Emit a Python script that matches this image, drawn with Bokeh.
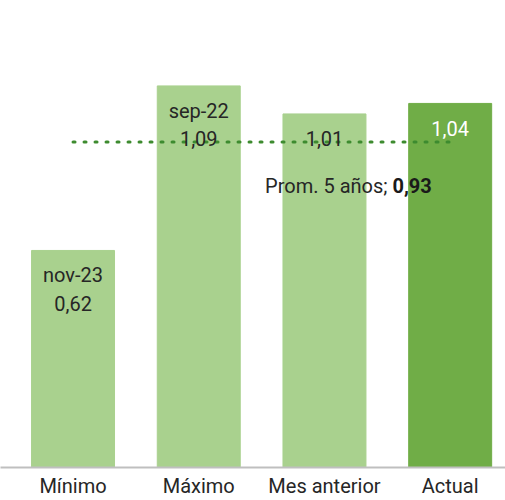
from bokeh.plotting import figure
from bokeh.models import ColumnDataSource, FixedTicker, Range1d
from bokeh.core.properties import value
from bokeh.embed import file_html
from bokeh.resources import INLINE

categories = ["Mínimo", "Máximo", "Mes anterior", "Actual"]
values = [0.62, 1.09, 1.01, 1.04]
dates = ["nov-23", "sep-22", "", ""]
value_labels = ["0,62", "1,09", "1,01", "1,04"]
avg_5y = 0.93
avg_label = "0,93"
avg_prefix = "Prom. 5 años; "

xs = [1, 2, 3, 4]
bar_colors = ["#a9d18e", "#a9d18e", "#a9d18e", "#70ad47"]
label_colors = ["#262626", "#262626", "#262626", "#ffffff"]
val_offsets = [53 if d else 25 for d in dates]

FONT = value("Roboto")
FS = "20px"

p = figure(width=505, height=500, output_backend="svg", toolbar_location=None,
           x_range=Range1d(0.423, 4.44), y_range=Range1d(0, 1.334),
           min_border_left=0, min_border_right=0, min_border_top=0, min_border_bottom=30)
p.outline_line_color = None
p.xgrid.grid_line_color = None
p.ygrid.grid_line_color = None
p.yaxis.visible = False

src = ColumnDataSource(dict(x=xs, top=values, color=bar_colors, date=dates,
                            vlab=value_labels, lcol=label_colors, voff=val_offsets))
p.vbar(x="x", top="top", width=0.66, color="color", source=src)

# dates
p.text(x="x", y="top", text="date", source=src, y_offset=25,
       text_align="center", text_baseline="middle", text_font=FONT,
       text_font_size=FS, text_color="#262626")
# average line
p.line(x=[xs[0], xs[-1]], y=[avg_5y, avg_5y], line_color="#3d8b2f",
       line_width=3, line_dash="2 9", line_cap="round")
# values
p.text(x="x", y="top", text="vlab", source=src, y_offset="voff",
       text_align="center", text_baseline="middle", text_font=FONT,
       text_font_size=FS, text_color="lcol")

# average label
p.text(x=[xs[2]], y=[avg_5y], text=[avg_prefix], x_offset=68, y_offset=44,
       text_align="right", text_baseline="middle", text_font=FONT,
       text_font_size=FS, text_color="#262626")
p.text(x=[xs[2]], y=[avg_5y], text=[avg_label], x_offset=68, y_offset=44,
       text_align="left", text_baseline="middle", text_font=FONT,
       text_font_size=FS, text_color="#1a1a1a", text_font_style="bold")

p.xaxis.ticker = FixedTicker(ticks=xs)
p.xaxis.major_label_overrides = {x: c for x, c in zip(xs, categories)}
p.xaxis.major_tick_line_color = None
p.xaxis.minor_tick_line_color = None
p.xaxis.major_tick_out = 0
p.xaxis.major_tick_in = 0
p.xaxis.axis_line_color = "#bfbfbf"
p.xaxis.axis_line_width = 2
p.xaxis.major_label_standoff = 6
p.xaxis.major_label_text_font = "Roboto"
p.xaxis.major_label_text_font_size = FS
p.xaxis.major_label_text_color = "#262626"

open("out.html", "w").write(file_html(p, INLINE))
